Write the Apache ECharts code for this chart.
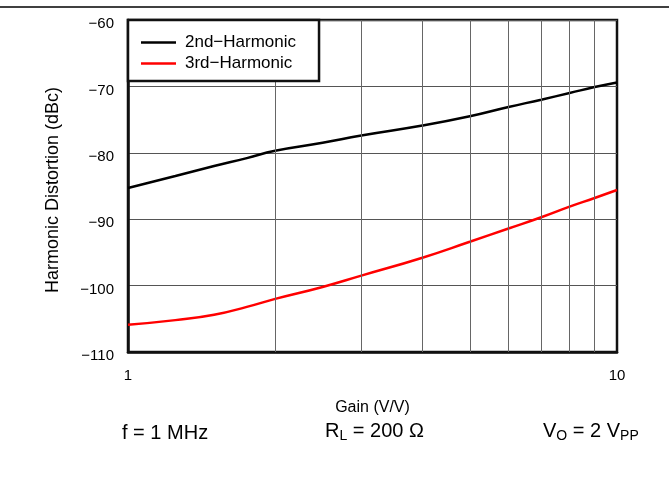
<!DOCTYPE html>
<html>
<head>
<meta charset="utf-8">
<script src="https://cdn.jsdelivr.net/npm/echarts@6/dist/echarts.min.js"></script>
<style>
html,body{margin:0;padding:0;background:#fff;}
#chart{width:669px;height:493px;}
</style>
</head>
<body>
<div id="chart"></div>
<script>
var gains = [1, 1.25, 1.5, 1.75, 2, 2.5, 3, 4, 5, 6, 7, 8, 9, 10];
var secondHarmonic = [-85.3, -83.5, -82.0, -80.8, -79.7, -78.5, -77.4, -75.9, -74.5, -73.1, -72.0, -71.0, -70.1, -69.4];
var thirdHarmonic = [-105.9, -105.2, -104.4, -103.2, -102.0, -100.2, -98.5, -95.8, -93.4, -91.4, -89.7, -88.1, -86.8, -85.6];
var minorGains = [2, 3, 4, 5, 6, 7, 8, 9];
var seriesNames = ['2nd\u2212Harmonic', '3rd\u2212Harmonic'];
var yTicks = {min: -110, max: -60, interval: 10};

var FONT = 'Liberation Sans, Arial, sans-serif';
function pair(xs, ys) { return xs.map(function (x, i) { return [x, ys[i]]; }); }

var chart = echarts.init(document.getElementById('chart'), null, {renderer: 'canvas'});
chart.setOption({
  animation: false,
  backgroundColor: '#fff',
  textStyle: {fontFamily: FONT},
  grid: {left: 128, right: 52, top: 20, bottom: 141, show: true, borderColor: '#111', borderWidth: 2.5, backgroundColor: 'transparent'},
  legend: {
    data: seriesNames,
    orient: 'vertical',
    left: 128, top: 20,
    backgroundColor: '#fff',
    borderColor: '#111', borderWidth: 2.5, borderRadius: 0,
    padding: [14, 23, 9, 13],
    icon: 'path://M0 0H40V3H0Z',
    itemWidth: 35, itemHeight: 14, itemGap: 4,
    textStyle: {fontFamily: FONT, fontSize: 17, color: '#000', padding: [0, 0, 0, 4]},
    z: 10
  },
  xAxis: {
    type: 'log', logBase: 10, min: 1, max: 10,
    name: 'Gain (V/V)', nameLocation: 'middle', nameGap: 48,
    nameTextStyle: {fontFamily: FONT, fontSize: 16, color: '#000'},
    axisLine: {show: true, lineStyle: {color: '#111', width: 2.5}},
    axisTick: {show: false},
    axisLabel: {fontFamily: FONT, fontSize: 15, color: '#000', margin: 16},
    splitLine: {show: false}
  },
  yAxis: {
    type: 'value', min: yTicks.min, max: yTicks.max, interval: yTicks.interval,
    name: 'Harmonic Distortion (dBc)', nameLocation: 'middle', nameGap: 66,
    nameTextStyle: {fontFamily: FONT, fontSize: 18, color: '#000', padding: [0, 8, 0, 0]},
    axisLine: {show: true, lineStyle: {color: '#111', width: 2.5}},
    axisTick: {show: false},
    axisLabel: {color: '#000', margin: 14,
      formatter: function (v) { return '{t|' + String(v).replace('-', '\u2212') + '}'; },
      rich: {t: {fontFamily: FONT, fontSize: 15, color: '#000', padding: [8, 0, 0, 0]}}
    },
    splitLine: {show: true, lineStyle: {color: '#555', width: 1}}
  },
  series: [
    {
      name: 'grid', type: 'line', data: [], z: 1, silent: true,
      markLine: {
        silent: true, symbol: 'none', animation: false,
        label: {show: false},
        lineStyle: {color: '#666', width: 1, type: 'solid'},
        data: minorGains.map(function (g) { return {xAxis: g}; })
      }
    },
    {
      name: seriesNames[0], type: 'line', smooth: 0.5, showSymbol: false, symbol: 'none', z: 3,
      lineStyle: {color: '#000', width: 2.5}, itemStyle: {color: '#000'},
      data: pair(gains, secondHarmonic)
    },
    {
      name: seriesNames[1], type: 'line', smooth: 0.5, showSymbol: false, symbol: 'none', z: 3,
      lineStyle: {color: '#f00', width: 2.5}, itemStyle: {color: '#f00'},
      data: pair(gains, thirdHarmonic)
    }
  ],
  graphic: [
    {type: 'line', shape: {x1: 0, y1: 7, x2: 669, y2: 7}, style: {stroke: '#000', lineWidth: 1.5}},
    {type: 'text', left: 122, top: 423, style: {text: 'f = 1 MHz', font: '20px ' + FONT, fill: '#000'}},
    {type: 'text', left: 325, top: 421, style: {
      text: '{m|R}{s|L}{m| = 200 \u03A9}', fill: '#000',
      rich: {m: {fontSize: 20, fontFamily: FONT}, s: {fontSize: 14, fontFamily: FONT, padding: [10, 0, 0, 0]}}
    }},
    {type: 'text', left: 543, top: 421, style: {
      text: '{m|V}{s|O}{m| = 2 V}{s|PP}', fill: '#000',
      rich: {m: {fontSize: 20, fontFamily: FONT}, s: {fontSize: 14, fontFamily: FONT, padding: [10, 0, 0, 0]}}
    }}
  ]
});
</script>
</body>
</html>
